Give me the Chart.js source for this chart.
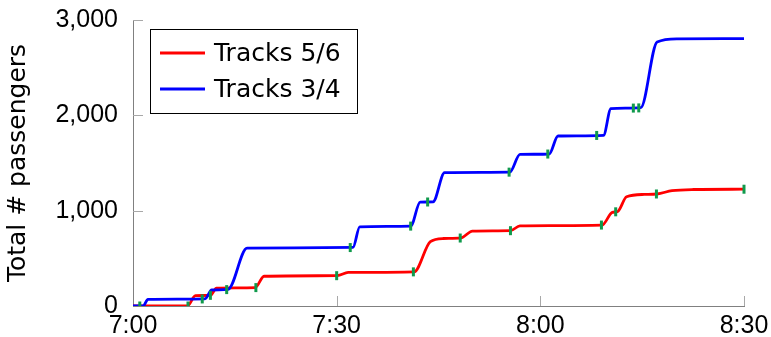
<!DOCTYPE html>
<html>
<head>
<meta charset="utf-8">
<script src="https://cdn.jsdelivr.net/npm/chart.js@4.4.1/dist/chart.umd.min.js"></script>
<style>
  html, body { margin: 0; padding: 0; background: #ffffff; }
  #wrap { width: 771px; height: 337px; }
</style>
</head>
<body>
<div id="wrap"><canvas id="c" width="771" height="337"></canvas></div>
<script>
// Cumulative passengers per platform pair, time in minutes after 7:00
const tracks56Minutes    = [0, 8.0, 9.2, 11.4, 12.3, 18.0, 19.3, 30.1, 31.7, 41.4, 43.8, 45.7, 48.3, 50.0, 55.6, 57.0, 69.1, 70.6, 71.4, 72.7, 75.3, 77.2, 79.4, 82.6, 90];
const tracks56Passengers = [0, 0,   108, 112,  188,  193,  312,  318,  352,  358,  675,  708,  714,  786,  790,  841,  849,  982,  992,  1146, 1170, 1175, 1210, 1222, 1225];

const tracks34Minutes    = [0, 1.5, 2.2, 10.6, 11.6, 14.0, 16.8, 32.4, 33.4, 40.9, 42.3, 44.2, 45.9, 55.5, 57.0, 61.3, 62.6, 69.3, 70.4, 74.8, 77.2, 80.2, 90];
const tracks34Passengers = [0, 0,   70,  75,   168,  174,  607,  614,  831,  838,  1089, 1093, 1399, 1404, 1590, 1594, 1783, 1790, 2070, 2080, 2770, 2803, 2805];

// Departure marks on each curve
const tracks56MarkMinutes = [8.1, 11.4, 18.1, 30.0, 41.3, 48.2, 55.6, 69.0, 71.1, 77.1, 90];
const tracks56MarkValues  = [0,   112,  193,  318,  358,  713,  790,  849,  988,  1175, 1225];
const tracks34MarkMinutes = [1.0, 10.2, 13.8, 32.0, 40.9, 43.4, 55.4, 61.1, 68.3, 73.7, 74.5];
const tracks34MarkValues  = [0,   74,   172,  613,  838,  1091, 1404, 1594, 1789, 2076, 2078];

// Axis ticks
const xTickMinutes = [0, 30, 60, 90];
const xTickLabels  = ['7:00', '7:30', '8:00', '8:30'];
const yTickValues  = [0, 1000, 2000, 3000];
const yTickLabels  = ['0', '1,000', '2,000', '3,000'];

const NUM_FONT = 'Liberation Sans, Arial, sans-serif';
const TEXT_FONT = 'DejaVu Sans, sans-serif';
const FONT_SIZE = 25;

const toPoints = (xs, ys) => xs.map((x, i) => ({ x: x, y: ys[i] }));
const markPoints = toPoints(tracks56MarkMinutes, tracks56MarkValues)
  .concat(toPoints(tracks34MarkMinutes, tracks34MarkValues));

// Short tick marks drawn inward from the axis lines
const innerTicks = {
  id: 'innerTicks',
  beforeDatasetsDraw(chart) {
    const { ctx, chartArea: a, scales: { x, y } } = chart;
    ctx.save();
    ctx.strokeStyle = '#a8a8a8';
    ctx.lineWidth = 1;
    ctx.beginPath();
    xTickMinutes.forEach(m => {
      if (m === 0) return;
      const px = Math.round(x.getPixelForValue(m)) + 0.5;
      ctx.moveTo(px, a.bottom);
      ctx.lineTo(px, a.bottom - 10);
    });
    yTickValues.forEach(v => {
      if (v === 0) return;
      const py = Math.round(y.getPixelForValue(v)) + 0.5;
      ctx.moveTo(a.left, py);
      ctx.lineTo(a.left + 10, py);
    });
    ctx.stroke();
    ctx.restore();
  }
};

// Boxed legend in the upper left of the plot
const boxLegend = {
  id: 'boxLegend',
  afterDraw(chart) {
    const { ctx } = chart;
    const entries = chart.data.datasets.filter(d => d.inLegend);
    const bx = 150.5, by = 29.5, bw = 207, bh = 84;
    ctx.save();
    ctx.fillStyle = '#ffffff';
    ctx.fillRect(bx, by, bw, bh);
    ctx.strokeStyle = '#000000';
    ctx.lineWidth = 1;
    ctx.strokeRect(bx, by, bw, bh);
    ctx.font = FONT_SIZE + 'px ' + TEXT_FONT;
    ctx.textBaseline = 'middle';
    ctx.textAlign = 'left';
    entries.forEach((d, i) => {
      const ly = 53 + i * 36;
      ctx.strokeStyle = d.borderColor;
      ctx.lineWidth = 2.8;
      ctx.beginPath();
      ctx.moveTo(160, ly);
      ctx.lineTo(205, ly);
      ctx.stroke();
      ctx.fillStyle = '#000000';
      ctx.fillText(d.label, 214, ly + 1);
    });
    ctx.restore();
  }
};

new Chart(document.getElementById('c'), {
  type: 'line',
  data: {
    datasets: [
      {
        type: 'scatter',
        label: 'departures',
        data: markPoints,
        pointStyle: 'line',
        rotation: 90,
        pointRadius: 4.5,
        pointHoverRadius: 4.5,
        pointBorderWidth: 3,
        borderColor: '#109a4c',
        pointBorderColor: '#109a4c',
        backgroundColor: '#109a4c',
        showLine: false,
        clip: { left: 0, top: 5, right: 3, bottom: 0 },
        order: 0
      },
      {
        label: 'Tracks 5/6',
        inLegend: true,
        data: toPoints(tracks56Minutes, tracks56Passengers),
        borderColor: '#ff0000',
        borderWidth: 2.8,
        pointRadius: 0,
        cubicInterpolationMode: 'monotone',
        borderJoinStyle: 'round',
        borderCapStyle: 'round',
        order: 2
      },
      {
        label: 'Tracks 3/4',
        inLegend: true,
        data: toPoints(tracks34Minutes, tracks34Passengers),
        borderColor: '#0000ff',
        borderWidth: 2.8,
        pointRadius: 0,
        cubicInterpolationMode: 'monotone',
        borderJoinStyle: 'round',
        borderCapStyle: 'round',
        order: 1
      }
    ]
  },
  options: {
    responsive: false,
    animation: false,
    events: [],
    layout: { padding: { left: 0, right: 27, top: 20, bottom: 0 } },
    plugins: {
      legend: { display: false },
      tooltip: { enabled: false }
    },
    scales: {
      x: {
        type: 'linear',
        min: 0,
        max: 90,
        afterBuildTicks(scale) {
          scale.ticks = xTickMinutes.map(v => ({ value: v }));
        },
        afterFit(scale) { scale.height = 31; },
        grid: { display: true, drawOnChartArea: false, drawTicks: true, tickLength: 5, color: 'rgba(0,0,0,0)' },
        border: { display: true, color: '#808080', width: 1 },
        ticks: {
          padding: 0,
          maxRotation: 0,
          color: '#000000',
          font: { family: NUM_FONT, size: FONT_SIZE, lineHeight: 1.2 },
          callback: (v) => xTickLabels[xTickMinutes.indexOf(v)]
        }
      },
      y: {
        type: 'linear',
        min: 0,
        max: 3000,
        afterBuildTicks(scale) {
          scale.ticks = yTickValues.map(v => ({ value: v }));
        },
        afterFit(scale) { scale.width = 133; },
        grid: { display: true, drawOnChartArea: false, drawTicks: true, tickLength: 15, color: 'rgba(0,0,0,0)' },
        border: { display: true, color: '#808080', width: 1 },
        title: {
          display: true,
          text: 'Total # passengers',
          color: '#000000',
          font: { family: TEXT_FONT, size: FONT_SIZE, lineHeight: 1.2 },
          padding: { top: 3, bottom: 0 }
        },
        ticks: {
          padding: 0,
          color: '#000000',
          font: { family: NUM_FONT, size: FONT_SIZE, lineHeight: 1.2 },
          callback: (v) => yTickLabels[yTickValues.indexOf(v)]
        }
      }
    }
  },
  plugins: [innerTicks, boxLegend]
});
</script>
</body>
</html>
